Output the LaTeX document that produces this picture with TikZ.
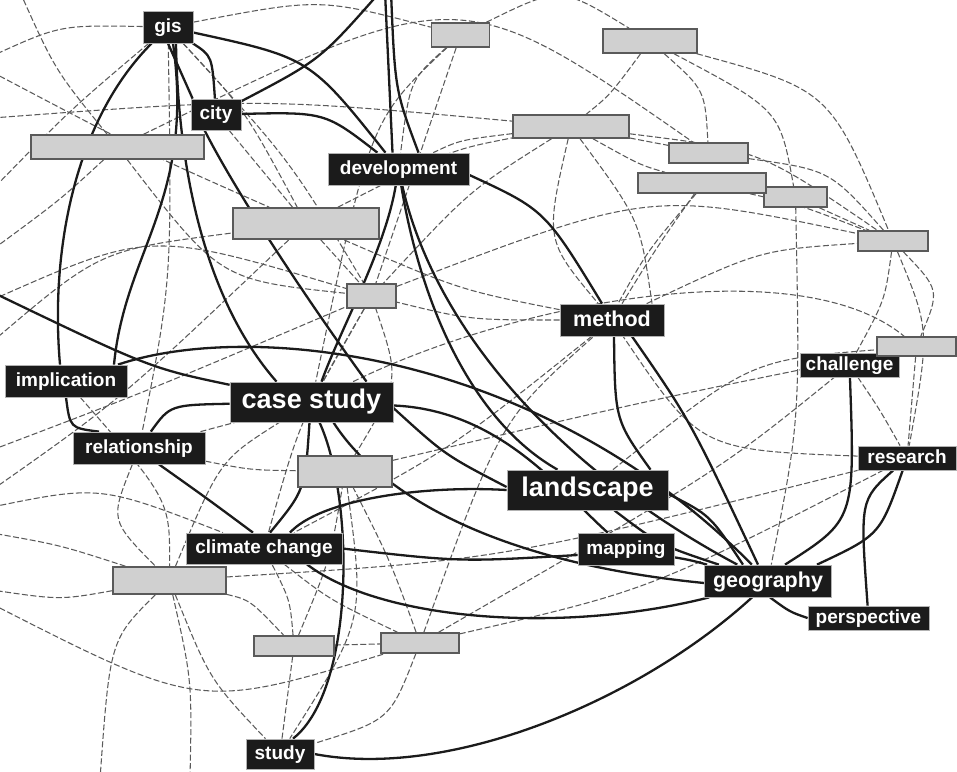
\documentclass[tikz,border=0pt]{standalone}
\usepackage{fontspec}
\setmainfont{Liberation Sans}
\usetikzlibrary{backgrounds}
\definecolor{ink}{HTML}{1B1B1B}
\definecolor{boxgray}{HTML}{D0D0D0}
\definecolor{boxedge}{HTML}{5A5A5A}
\definecolor{dashgray}{HTML}{5A5A5A}
\tikzset{
  sz/.style 2 args={minimum width=#1pt, minimum height=#2pt},
  lab/.style={fill=ink, draw=gray!60, line width=0.8pt, text=white, inner sep=0pt,
              font=\bfseries\fontsize{19}{19}\selectfont, text height=12.5pt, text depth=2pt},
  mid/.style={font=\bfseries\fontsize{21.5}{21.5}\selectfont, text height=14.5pt, text depth=1.5pt},
  big/.style={font=\bfseries\fontsize{27}{27}\selectfont, text height=18pt, text depth=6pt},
  gbox/.style={fill=boxgray, draw=boxedge, line width=1.5pt, inner sep=0pt},
  se/.style={draw=ink, line width=2.3pt},
  de/.style={draw=dashgray, line width=1.05pt, dash pattern=on 6pt off 2.5pt},
}
\begin{document}
\begin{tikzpicture}[x=1pt,y=-1pt]
\useasboundingbox (0,0) rectangle (957,771);

% keyword nodes
\node[lab, sz={50}{32}] (gis) at (168,27) {gis};
\node[lab, sz={50}{31}] (city) at (216,114.5) {city};
\node[lab, sz={141}{32}] (dev) at (398.5,169) {development};
\node[lab, mid, sz={104}{32}] (method) at (612,320) {method};
\node[lab, sz={99}{24}] (chal) at (849.5,365) {challenge};
\node[lab, sz={122}{32}] (impl) at (66,381) {implication};
\node[lab, big, sz={163}{40}] (cs) at (311.5,402) {case study};
\node[lab, sz={132}{32}] (rel) at (139,448) {relationship};
\node[lab, sz={156}{31}] (cc) at (264,548.5) {climate change};
\node[lab, sz={68}{30}] (study) at (280,754) {study};
\node[lab, big, sz={161}{40}] (land) at (587.5,490) {landscape};
\node[lab, sz={96}{32}] (map) at (626,549) {mapping};
\node[lab, mid, sz={127}{32}] (geo) at (768,581) {geography};
\node[lab, sz={98}{24}] (res) at (907,458) {research};
\node[lab, sz={121}{24}] (persp) at (868.5,618) {perspective};

% unlabelled boxes
\node[gbox, sz={58}{24}] (g1) at (460.5,35) {};
\node[gbox, sz={94}{24}] (g2) at (650,41) {};
\node[gbox, sz={116}{23}] (g3) at (571,126.5) {};
\node[gbox, sz={79}{20}] (g4) at (708.5,153) {};
\node[gbox, sz={63}{20}] (g6) at (795.5,197) {};
\node[gbox, sz={128}{20}] (g5) at (702,183) {};
\node[gbox, sz={70}{20}] (g7) at (893,241) {};
\node[gbox, sz={79}{19}] (g8) at (916.5,346.5) {};
\node[gbox, sz={173}{24}] (g9) at (117.5,147) {};
\node[gbox, sz={146}{31}] (g10) at (306,223.5) {};
\node[gbox, sz={49}{24}] (g11) at (371.5,296) {};
\node[gbox, sz={94}{31}] (g12) at (345,471.5) {};
\node[gbox, sz={113}{27}] (g13) at (169.5,580.5) {};
\node[gbox, sz={80}{20}] (g14) at (294,646) {};
\node[gbox, sz={78}{20}] (g15) at (420,643) {};

% free ends beyond the frame
\coordinate (T1) at (380,-8);
\coordinate (T2) at (385,-8);
\coordinate (T3) at (391,-8);
\coordinate (T4) at (20,-8);
\coordinate (L1) at (-8,56);
\coordinate (L2) at (-8,292);
\coordinate (L3) at (-8,118);
\coordinate (L4) at (-8,72);
\coordinate (L5) at (-8,190);
\coordinate (L6) at (-8,250);
\coordinate (L7) at (-8,342);
\coordinate (L8) at (-8,533);
\coordinate (L9) at (-8,590);
\coordinate (L10) at (-8,604);
\coordinate (L11) at (-8,450);
\coordinate (L12) at (-8,490);
\coordinate (L13) at (-8,507);
\coordinate (L14) at (-8,300);
\coordinate (B1) at (100,779);
\coordinate (B2) at (190,779);

\begin{scope}[on background layer]
\fill[white] (0,0) rectangle (957,771);

% weak links
\draw[de] (gis) .. controls (60,25) .. (L1);
\draw[de] (gis) .. controls (320,-2) .. (g1);
\draw[de] (g1) .. controls (560,-14) .. (g2);
\draw[de] (T4) .. controls (55,70) .. (g9);
\draw[de] (L3) .. controls (260,98) .. (g3);
\draw[de] (L4) .. controls (140,150) .. (g10);
\draw[de] (gis) .. controls (70,110) .. (L5);
\draw[de] (gis) .. controls (172,280) .. (rel);
\draw[de] (gis) .. controls (245,110) .. (g10);
\draw[de] (gis) .. controls (290,160) .. (g11);
\draw[de] (city) -- (g10);
\draw[de] (g9) .. controls (60,200) .. (L6);
\draw[de] (g9) .. controls (220,280) .. (g11);
\draw[de] (g9) .. controls (460,-20) .. (g4);
\draw[de] (L7) .. controls (100,250) .. (g10);
\draw[de] (L14) .. controls (150,230) .. (g11);
\draw[de] (g10) .. controls (450,150) .. (g3);
\draw[de] (g1) .. controls (410,80) .. (dev);
\draw[de] (g1) -- (g11);
\draw[de] (g1) .. controls (370,120) .. (cs);
\draw[de] (g2) .. controls (610,95) .. (g3);
\draw[de] (g2) .. controls (705,90) .. (g4);
\draw[de] (g2) .. controls (780,110) .. (g6);
\draw[de] (g2) .. controls (830,90) .. (g7);
\draw[de] (g3) .. controls (640,140) .. (g4);
\draw[de] (g3) .. controls (640,165) .. (g5);
\draw[de] (g3) .. controls (760,150) .. (g7);
\draw[de] (g3) .. controls (545,240) .. (method);
\draw[de] (g3) .. controls (640,220) .. ([xshift=40pt]method.north);
\draw[de] (g3) .. controls (470,190) .. (g11);
\draw[de] (g3) .. controls (460,140) .. (dev);
\draw[de] (g4) .. controls (830,170) .. (g7);
\draw[de] (g5) .. controls (655,250) .. (method);
\draw[de] ([xshift=-6pt]g5.south) .. controls (648,250) .. ([xshift=6pt]method.north);
\draw[de] (g5) .. controls (800,205) .. (g7);
\draw[de] (g6) -- (g7);
\draw[de] (g6) .. controls (800,420) .. (geo);
\draw[de] (method) .. controls (760,250) .. (g7);
\draw[de] (g11) .. controls (650,190) .. (g7);
\draw[de] (cs) .. controls (520,300) and (800,250) .. (g8);
\draw[de] (land) .. controls (750,360) .. (g8);
\draw[de] (g7) .. controls (885,300) .. (chal);
\draw[de] (g7) .. controls (930,330) .. (res);
\draw[de] (g7) .. controls (940,290) .. (g8);
\draw[de] (g8) -- (res);
\draw[de] (res) .. controls (700,450) .. (method);
\draw[de] (g15) .. controls (650,590) .. (res);
\draw[de] (g15) .. controls (720,470) .. (chal);
\draw[de] (chal) .. controls (880,410) .. (res);
\draw[de] (method) .. controls (470,320) .. (g11);
\draw[de] (method) .. controls (460,290) .. (g10);
\draw[de] (method) .. controls (450,450) .. (cc);
\draw[de] (g13) .. controls (110,640) .. (B1);
\draw[de] (g13) .. controls (192,680) .. (B2);
\draw[de] (g13) .. controls (210,680) .. (study);
\draw[de] (g13) .. controls (250,600) .. (g14);
\draw[de] (rel) .. controls (110,520) .. (g13);
\draw[de] (impl) .. controls (170,500) .. (g13);
\draw[de] (g13) .. controls (60,545) .. (L8);
\draw[de] (g13) .. controls (60,600) .. (L9);
\draw[de] (g13) .. controls (220,460) .. (cs);
\draw[de] (g13) .. controls (500,560) .. (res);
\draw[de] (L10) .. controls (200,710) .. (g15);
\draw[de] (L11) .. controls (150,390) .. (g11);
\draw[de] (L12) .. controls (120,400) .. (g10);
\draw[de] (L13) .. controls (100,485) .. (cc);
\draw[de] (rel) .. controls (250,470) .. (g12);
\draw[de] (rel) -- (cs);
\draw[de] (g14) -- (study);
\draw[de] (g14) -- (g15);
\draw[de] (g14) .. controls (290,600) .. (cc);
\draw[de] (g14) .. controls (330,560) .. (g12);
\draw[de] (g15) .. controls (390,560) .. (g12);
\draw[de] (g15) .. controls (500,420) .. (method);
\draw[de] (g15) .. controls (390,720) .. (study);
\draw[de] (cc) .. controls (330,600) .. (g15);
\draw[de] (g12) .. controls (365,620) .. (study);
\draw[de] (g12) .. controls (650,400) .. (g8);
\draw[de] (g12) .. controls (400,380) .. (g11);
\draw[de] (g11) -- (cs);
\draw[de] (g11) .. controls (300,420) .. (cc);
\draw[de] (g10) -- (g11);

% strong links
\draw[se] (gis) .. controls (75,120) and (50,250) .. ([xshift=-6pt]impl.north);
\draw[se] (impl.south) .. controls (70,428) .. ([xshift=-40pt]rel.north);
\draw[se] (gis.south) -- ([xshift=2pt]city.north west);
\draw[se] (gis) .. controls (212,56) .. (city);
\draw[se] ([xshift=48pt]impl.north) .. controls (125,250) and (195,200) .. ([xshift=5pt]gis.south);
\draw[se] ([xshift=8pt]gis.south) .. controls (178,170) and (205,300) .. ([xshift=-35pt]cs.north);
\draw[se] ([xshift=14pt]city.south west) .. controls (235,190) and (300,290) .. ([xshift=55pt]cs.north);
\draw[se] (gis) .. controls (310,58) .. (dev);
\draw[se] (city) .. controls (325,112) .. (dev);
\draw[se] (city) .. controls (320,60) .. (T1);
\draw[se] (T2) -- ([xshift=-6pt]dev.north);
\draw[se] (T3) .. controls (395,90) .. ([xshift=20pt]dev.north);
\draw[se] (dev) .. controls (385,250) and (340,330) .. ([xshift=10pt]cs.north);
\draw[se] (dev) .. controls (420,300) and (470,420) .. ([xshift=-30pt]land.north);
\draw[se] (dev) .. controls (435,330) and (560,470) .. (geo);
\draw[se] ([yshift=-6pt]dev.east) .. controls (545,210) .. (method);
\draw[se] (L2) .. controls (150,368) .. (cs);
\draw[se] ([xshift=52pt]impl.north) .. controls (250,320) and (540,350) .. (geo);
\draw[se] (cs) .. controls (170,405) .. (rel);
\draw[se] ([xshift=-2pt]cs.south) .. controls (305,490) .. ([xshift=6pt]cc.north);
\draw[se] ([xshift=8pt]cs.south) .. controls (355,500) and (355,690) .. ([xshift=13pt]study.north);
\draw[se] ([yshift=-6pt]cs.east) .. controls (445,455) .. ([yshift=3pt]land.west);
\draw[se] ([xshift=22pt]cs.south) .. controls (370,480) and (470,560) .. ([yshift=-2pt]geo.west);
\draw[se] (cs) .. controls (500,410) and (560,490) .. (map);
\draw[se] ([xshift=20pt]rel.south) .. controls (205,497) .. ([xshift=-11pt]cc.north);
\draw[se] ([xshift=26pt]cc.north) .. controls (320,500) and (420,485) .. (land.west);
\draw[se] (cc.east) .. controls (460,562) .. ([yshift=-6pt]map.west);
\draw[se] ([xshift=43pt]cc.south) .. controls (380,620) and (560,635) .. ([xshift=5pt]geo.south west);
\draw[se] (study.east) .. controls (450,780) and (640,700) .. ([xshift=-16pt]geo.south);
\draw[se] ([yshift=-4pt]land.east) .. controls (710,515) .. ([xshift=-25pt]geo.north);
\draw[se] (land) .. controls (660,545) .. (geo);
\draw[se] (map) .. controls (690,560) .. (geo);
\draw[se] ([xshift=2pt]method.south) .. controls (615,420) .. ([xshift=63pt]land.north);
\draw[se] ([xshift=20pt]method.south) .. controls (690,420) .. ([xshift=-10pt]geo.north);
\draw[se] (chal) .. controls (855,520) .. ([xshift=17pt]geo.north);
\draw[se] (res) .. controls (880,535) .. ([xshift=49pt]geo.north);
\draw[se] (res) .. controls (860,500) .. (persp);
\draw[se] ([xshift=2pt]geo.south) .. controls (790,612) .. (persp.west);
\end{scope}
\end{tikzpicture}
\end{document}
